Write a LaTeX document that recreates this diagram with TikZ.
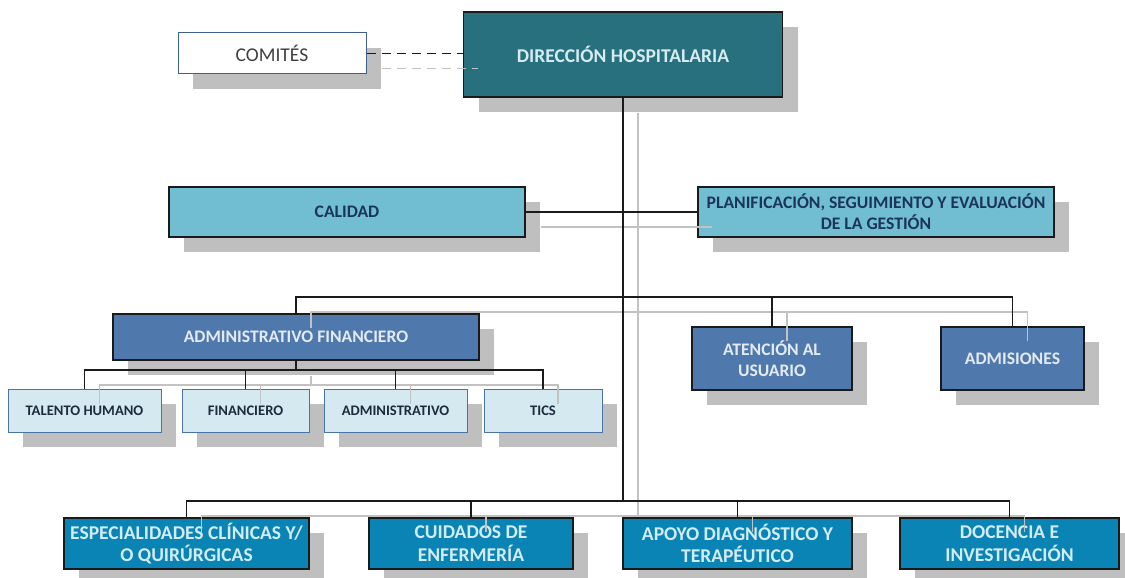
\documentclass[tikz,border=0pt]{standalone}
\usepackage{fontspec}
\setmainfont{Carlito}
\usepackage{tikz}
\usepackage{xcolor}
\usetikzlibrary{shapes, positioning, shadows}

\definecolor{dirfill}{HTML}{29707F}
\definecolor{dirtext}{HTML}{D5ECF0}
\definecolor{stafffill}{HTML}{71BED3}
\definecolor{stafftext}{HTML}{1B3556}
\definecolor{unitfill}{HTML}{4F79AD}
\definecolor{unittext}{HTML}{E4EAF4}
\definecolor{subfill}{HTML}{D4EAF0}
\definecolor{subline}{HTML}{4A74A6}
\definecolor{subtext}{HTML}{1E2B3C}
\definecolor{servfill}{HTML}{0A84B4}
\definecolor{servtext}{HTML}{D2ECF6}
\definecolor{comiteline}{HTML}{3D5F92}
\definecolor{comitetext}{HTML}{3F3F3F}
\definecolor{boxline}{HTML}{1A1A1A}
\definecolor{shadowgray}{HTML}{BFBFBF}
\definecolor{linkgray}{HTML}{C2C2C2}

\tikzset{
    box/.style={rectangle, draw=boxline, line width=1.2pt, inner sep=1pt, align=center,
        drop shadow={shadow xshift=15pt, shadow yshift=-15pt, fill=shadowgray, opacity=1}},
    dirbox/.style={box, fill=dirfill, text=dirtext, font=\fontsize{19.5}{22}\selectfont\bfseries},
    comitebox/.style={box, draw=comiteline, line width=1pt, fill=white, text=comitetext, font=\fontsize{19.5}{22}\selectfont},
    staffbox/.style={box, fill=stafffill, text=stafftext, font=\fontsize{17.6}{21}\selectfont\bfseries},
    unitbox/.style={box, fill=unitfill, text=unittext, font=\fontsize{17.6}{21}\selectfont\bfseries},
    subbox/.style={box, draw=subline, line width=1pt, fill=subfill, text=subtext, font=\fontsize{14.6}{17}\selectfont\bfseries},
    servbox/.style={box, fill=servfill, text=servtext, font=\fontsize{19.5}{22.5}\selectfont\bfseries},
    link/.style={draw=boxline, line width=1.4pt},
    linkshade/.style={draw=linkgray, line width=1.4pt, transform canvas={shift={(15pt,-15pt)}}}
}

\begin{document}
\begin{tikzpicture}[x=1pt, y=-1pt]
        \useasboundingbox (0,0) rectangle (1125,578);

        \node[dirbox, minimum width=319, minimum height=85] (dir) at (623, 54.5) {DIRECCIÓN HOSPITALARIA};
        \node[comitebox, minimum width=188, minimum height=41] (comites) at (272, 53.5) {COMITÉS};

        \node[staffbox, minimum width=356, minimum height=50] (calidad) at (347, 212) {CALIDAD};
        \node[staffbox, minimum width=356, minimum height=50] (planif) at (876, 212) {PLANIFICACIÓN, SEGUIMIENTO Y EVALUACIÓN\\DE LA GESTIÓN};

        \node[unitbox, minimum width=366, minimum height=46] (adminfin) at (296, 337) {ADMINISTRATIVO FINANCIERO};
        \node[unitbox, minimum width=160, minimum height=63] (atencion) at (772, 358.5) {ATENCIÓN AL\\USUARIO};
        \node[unitbox, minimum width=143, minimum height=63] (admisiones) at (1012.5, 358.5) {ADMISIONES};

        \node[subbox, minimum width=153, minimum height=43] (talento) at (84.5, 410.5) {TALENTO HUMANO};
        \node[subbox, minimum width=127, minimum height=43] (financiero) at (245.5, 410.5) {FINANCIERO};
        \node[subbox, minimum width=143, minimum height=43] (administrativo) at (395.5, 410.5) {ADMINISTRATIVO};
        \node[subbox, minimum width=118, minimum height=43] (tics) at (543, 410.5) {TICS};

        \node[servbox, minimum width=245, minimum height=51] (especialidades) at (186.5, 543.5) {ESPECIALIDADES CLÍNICAS Y/\\O QUIRÚRGICAS};
        \node[servbox, minimum width=204, minimum height=51] (cuidados) at (471, 543.5) {CUIDADOS DE\\ENFERMERÍA};
        \node[servbox, minimum width=229, minimum height=51] (apoyo) at (737.5, 543.5) {APOYO DIAGNÓSTICO Y\\TERAPÉUTICO};
        \node[servbox, minimum width=219, minimum height=51] (docencia) at (1009.5, 543.5) {DOCENCIA E\\INVESTIGACIÓN};

        \coordinate (busA) at (623, 297);
        \coordinate (busB) at (623, 501);
        \coordinate (subbus) at (296, 370);

        % grey copy of the lines, shifted like the shadows
        \draw[linkshade, dashed, dash pattern=on 9pt off 6pt] (comites.east) to (comites.east -| dir.west);
        \draw[linkshade] (dir.south) to (busB);
        \draw[linkshade] (calidad.east) to (planif.west)
            (adminfin.north) |- (admisiones.north |- busA) to (admisiones.north)
            (atencion.north |- busA) to (atencion.north)
            (adminfin.south) to (subbus)
            (talento.north) |- (tics.north |- subbus) to (tics.north)
            (financiero.north |- subbus) to (financiero.north)
            (administrativo.north |- subbus) to (administrativo.north)
            (especialidades.north) |- (docencia.north |- busB) to (docencia.north)
            (cuidados.north |- busB) to (cuidados.north)
            (apoyo.north |- busB) to (apoyo.north);

        \draw[link, dashed, dash pattern=on 9pt off 6pt] (comites.east) to (comites.east -| dir.west);
        \draw[link] (dir.south) to (busB);
        \draw[link] (calidad.east) to (planif.west)
            (adminfin.north) |- (admisiones.north |- busA) to (admisiones.north)
            (atencion.north |- busA) to (atencion.north)
            (adminfin.south) to (subbus)
            (talento.north) |- (tics.north |- subbus) to (tics.north)
            (financiero.north |- subbus) to (financiero.north)
            (administrativo.north |- subbus) to (administrativo.north)
            (especialidades.north) |- (docencia.north |- busB) to (docencia.north)
            (cuidados.north |- busB) to (cuidados.north)
            (apoyo.north |- busB) to (apoyo.north);
    \end{tikzpicture}
\end{document}
